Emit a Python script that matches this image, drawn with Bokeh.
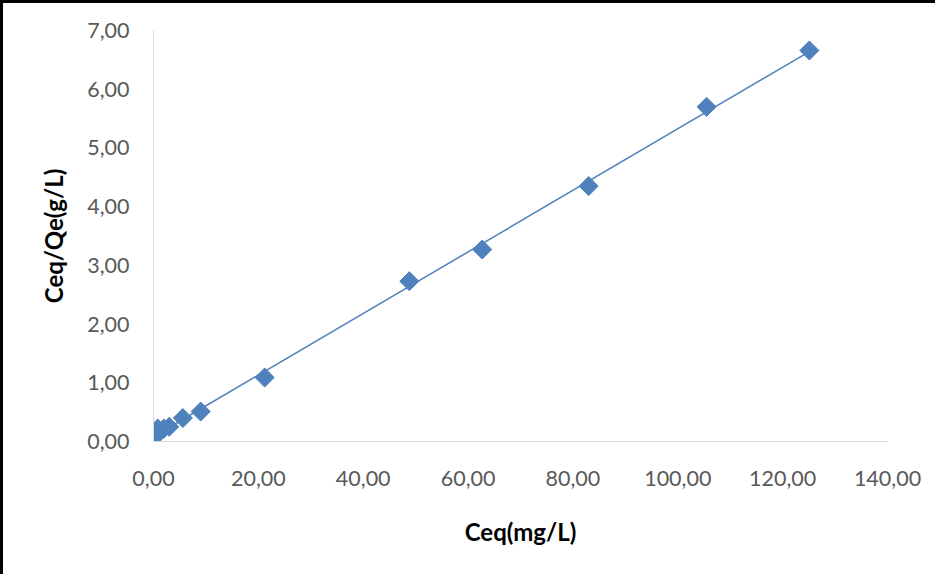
import numpy as np
from bokeh.plotting import figure
from bokeh.models import FixedTicker, CustomJSTickFormatter, Range1d
from bokeh.embed import file_html
from bokeh.resources import INLINE

# Data
ceq = [0.5, 0.8, 2.0, 3.0, 5.6, 9.0, 21.2, 48.8, 62.7, 83.0, 105.5, 125.1]
ceq_qe = [0.10, 0.22, 0.22, 0.25, 0.40, 0.51, 1.09, 2.73, 3.27, 4.35, 5.70, 6.66]
x_ticks = [0, 20, 40, 60, 80, 100, 120, 140]
y_ticks = [0, 1, 2, 3, 4, 5, 6, 7]
x_title = "Ceq(mg/L)"
y_title = "Ceq/Qe(g/L)"

BLUE = "#4F81BD"
FONT = "Lato"

p = figure(width=935, height=574, output_backend="svg", toolbar_location=None,
           x_range=Range1d(0, 140), y_range=Range1d(0, 7),
           min_border_left=150, min_border_right=51, min_border_top=27, min_border_bottom=136)
p.styles = {"border-left": "3px solid black", "border-top": "3px solid black"}
p.outline_line_color = None
p.xgrid.grid_line_color = None
p.ygrid.grid_line_color = None

# linear trendline fitted on the data
slope, icpt = np.polyfit(ceq, ceq_qe, 1)
tx = [min(ceq), max(ceq)]
ty = [slope * v + icpt for v in tx]
p.line(tx, ty, line_color=BLUE, line_width=1.5)

p.scatter(ceq, ceq_qe, marker="square", angle=np.pi / 4, size=13.5,
          fill_color=BLUE, line_color=BLUE)

fmt = CustomJSTickFormatter(code="return tick.toFixed(2).replace('.', ',');")
for ax, ticks in ((p.xaxis[0], x_ticks), (p.yaxis[0], y_ticks)):
    ax.ticker = FixedTicker(ticks=ticks)
    ax.formatter = fmt
    ax.axis_line_color = "#D9D9D9"
    ax.axis_line_width = 1
    ax.major_tick_line_color = None
    ax.minor_tick_line_color = None
    ax.major_tick_out = 0
    ax.major_tick_in = 0
    ax.major_label_text_font = FONT
    ax.major_label_text_font_size = "21.5px"
    ax.major_label_text_color = "#595959"
    ax.axis_label_text_font = FONT
    ax.axis_label_text_font_size = "24px"
    ax.axis_label_text_font_style = "bold"
    ax.axis_label_text_color = "black"

p.xaxis[0].axis_label = x_title
p.yaxis[0].axis_label = y_title
p.xaxis[0].major_label_standoff = 29
p.yaxis[0].major_label_standoff = 24
p.xaxis[0].axis_label_standoff = 28
p.yaxis[0].axis_label_standoff = 16

open("out.html", "w").write(file_html(p, INLINE))
